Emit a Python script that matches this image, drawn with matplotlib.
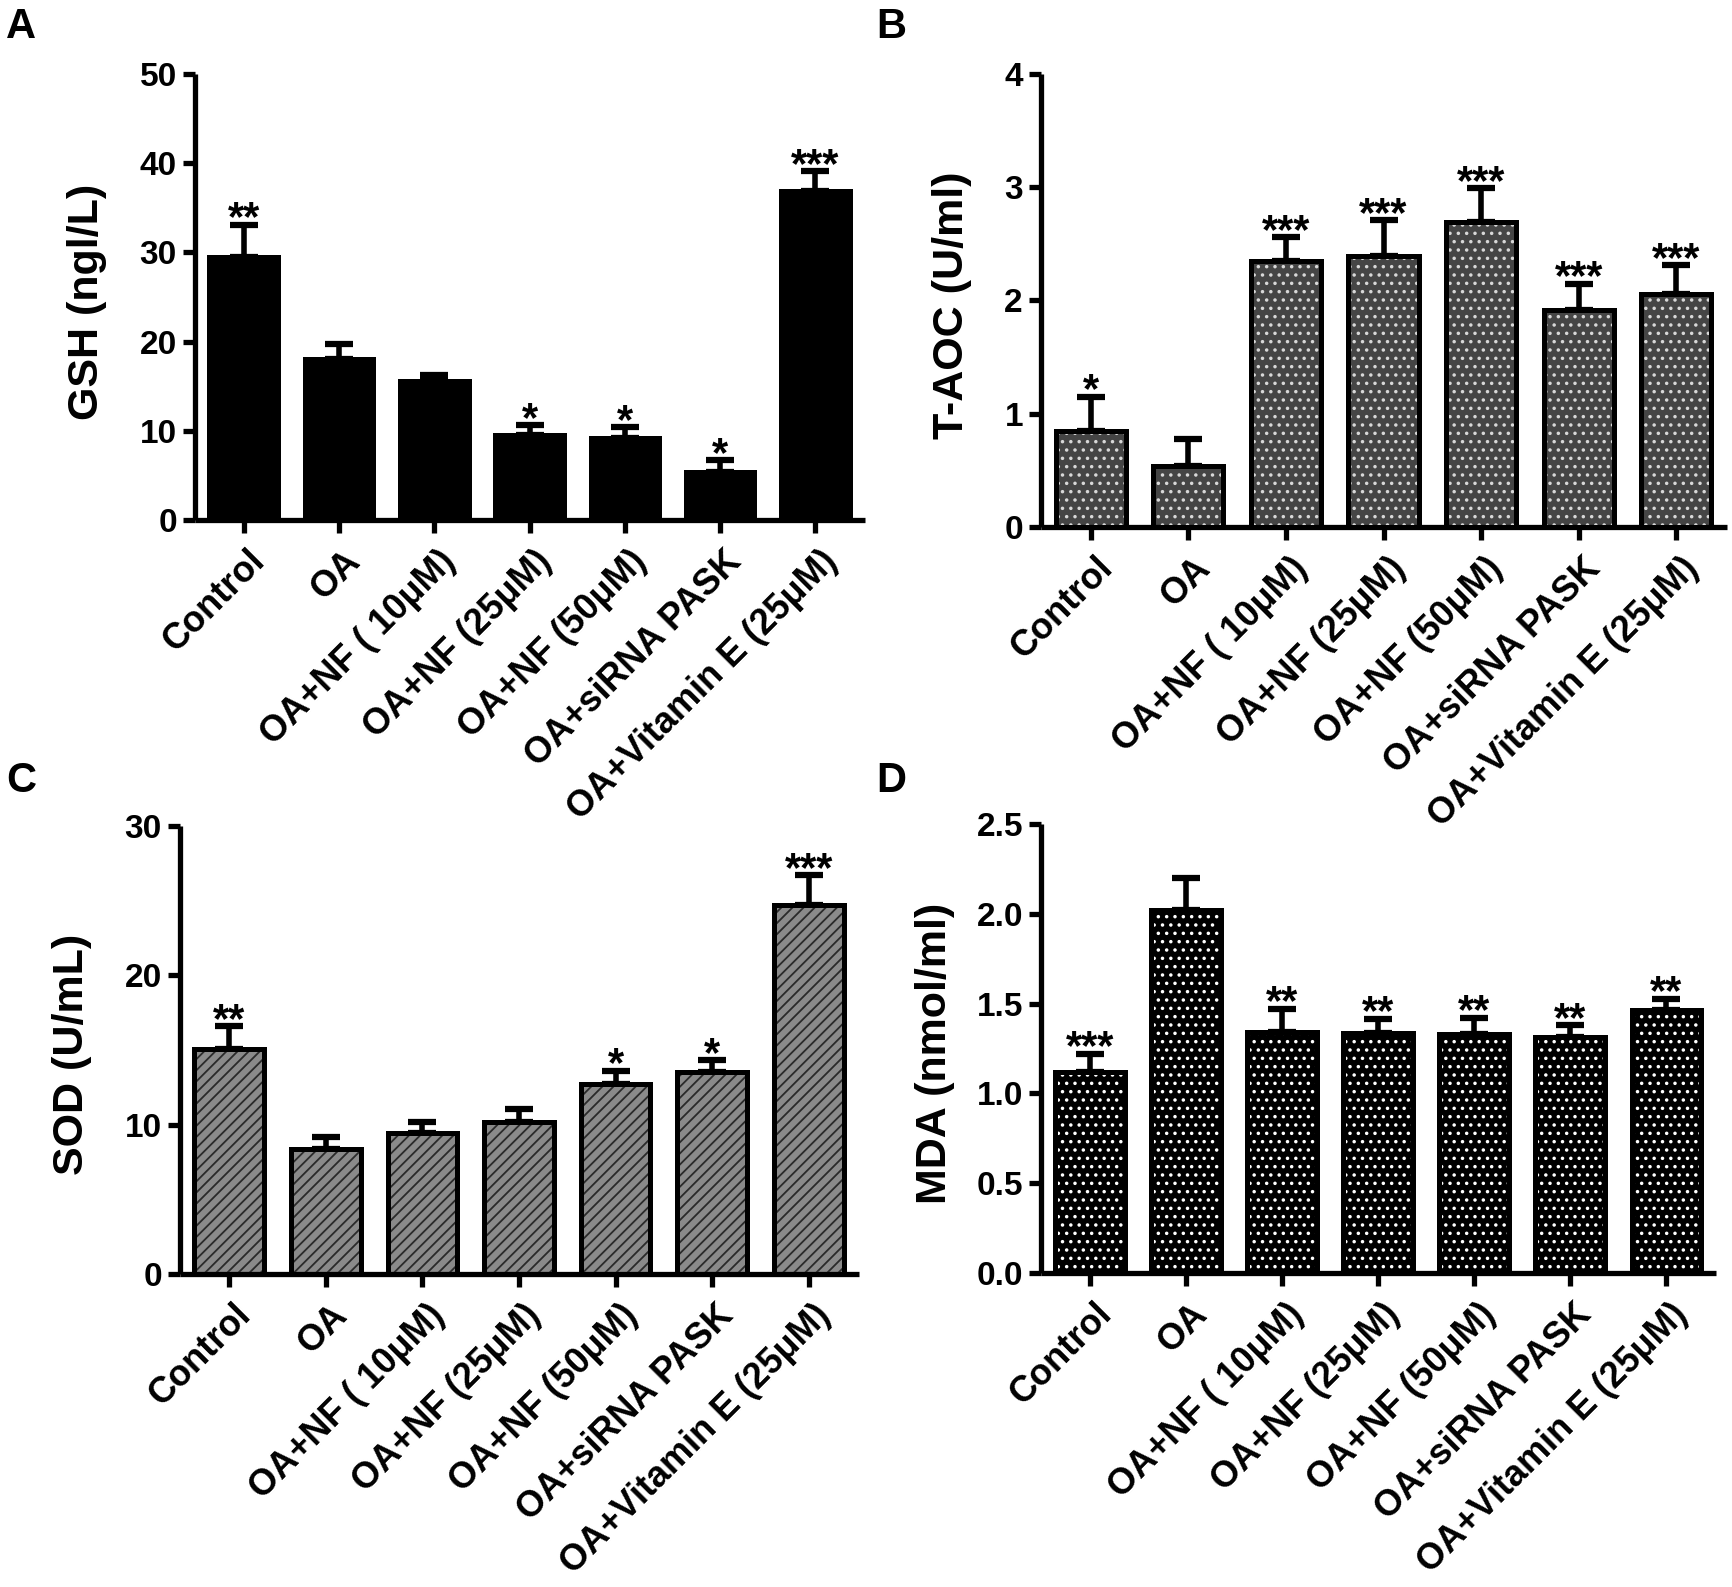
import matplotlib
matplotlib.use("Agg")
import matplotlib.pyplot as plt
from matplotlib.transforms import ScaledTranslation

plt.rcParams['font.family'] = ['Liberation Sans', 'DejaVu Sans']
plt.rcParams['font.weight'] = 'bold'

# grupos (eje x)
grupos = ['Control', 'OA', 'OA+NF ( 10μM)', 'OA+NF (25μM)', 'OA+NF (50μM)',
          'OA+siRNA PASK', 'OA+Vitamin E (25μM)']

# A: GSH
gsh_media = [29.5, 18.1, 15.6, 9.5, 9.2, 5.4, 36.9]
gsh_err = [3.6, 1.6, 0.7, 1.1, 1.2, 1.3, 2.2]
gsh_sig = ['**', '', '', '*', '*', '*', '***']

# B: T-AOC
taoc_media = [0.85, 0.54, 2.35, 2.39, 2.69, 1.92, 2.06]
taoc_err = [0.30, 0.24, 0.21, 0.32, 0.30, 0.23, 0.25]
taoc_sig = ['*', '', '***', '***', '***', '***', '***']

# C: SOD
sod_media = [15.1, 8.35, 9.46, 10.15, 12.74, 13.5, 24.7]
sod_err = [1.5, 0.8, 0.7, 0.9, 0.86, 0.8, 2.0]
sod_sig = ['**', '', '', '', '*', '*', '***']

# D: MDA
mda_media = [1.12, 2.02, 1.34, 1.335, 1.33, 1.315, 1.466]
mda_err = [0.10, 0.18, 0.13, 0.08, 0.09, 0.065, 0.06]
mda_sig = ['***', '', '**', '**', '**', '**', '**']

W, H = 1733, 1587
fig = plt.figure(figsize=(W / 100, H / 100), dpi=100)


def panel(rect, medias, errs, sigs, ylabel, yticks, ymax, fmt, fondo, trama, color_trama, label_x):
    ax = fig.add_axes(rect)
    x = list(range(len(medias)))
    # barra de fondo
    ax.bar(x, medias, width=0.72, color=fondo, edgecolor='none', linewidth=0, zorder=2)
    # trama
    if trama:
        ax.bar(x, medias, width=0.72, color='none', edgecolor=color_trama, linewidth=0,
               hatch=trama, zorder=3)
    # contorno
    ax.bar(x, medias, width=0.72, color='none', edgecolor='black', linewidth=3.6, zorder=4)
    ax.errorbar(x, medias, yerr=[[0] * len(errs), errs], fmt='none', ecolor='black',
                elinewidth=4, capsize=10, capthick=4.5, zorder=1)
    for xi, m, e, s in zip(x, medias, errs, sigs):
        if s:
            ax.annotate(s, (xi, m + e), xytext=(0, -4), textcoords='offset points',
                        ha='center', va='baseline', fontsize=30, fontweight='bold')
    ax.set_xlim(-0.51, 6.52)
    ax.set_ylim(0, ymax)
    ax.set_yticks(yticks)
    ax.set_yticklabels([fmt % t for t in yticks])
    ax.set_xticks(x)
    ax.set_xticklabels(grupos, rotation=45, ha='right', rotation_mode='anchor')
    for s in ['top', 'right']:
        ax.spines[s].set_visible(False)
    for s in ['left', 'bottom']:
        ax.spines[s].set_linewidth(3.8)
        ax.spines[s].set_capstyle('butt')
    ax.tick_params(axis='both', width=3.8, length=9)
    ax.tick_params(axis='y', labelsize=24, pad=4)
    ax.tick_params(axis='x', labelsize=26, pad=8)
    desplaza = ScaledTranslation(4 / 100, 0, fig.dpi_scale_trans)
    for t in ax.get_xticklabels():
        t.set_fontweight('bold')
        t.set_transform(t.get_transform() + desplaza)
    for t in ax.get_yticklabels():
        t.set_fontweight('bold')
    ax.set_ylabel(ylabel, fontsize=31, fontweight='bold')
    ax.yaxis.set_label_coords(label_x, 0.49)
    return ax


plt.rcParams['hatch.linewidth'] = 1.3

panel([195 / W, 1 - 520 / H, 670 / W, 446 / H], gsh_media, gsh_err, gsh_sig,
      'GSH (ngl/L)', [0, 10, 20, 30, 40, 50], 50, '%d', 'black', None, None, -0.131)
panel([1041 / W, 1 - 527 / H, 686 / W, 453 / H], taoc_media, taoc_err, taoc_sig,
      'T-AOC (U/ml)', [0, 1, 2, 3, 4], 4, '%d', '#454545', '..', '#d8d8d8', -0.100)
panel([180 / W, 1 - 1274 / H, 679 / W, 448 / H], sod_media, sod_err, sod_sig,
      'SOD (U/mL)', [0, 10, 20, 30], 30, '%d', '#8a8a8a', '///', '#2a2a2a', -0.130)
panel([1041 / W, 1 - 1273 / H, 675 / W, 449 / H], mda_media, mda_err, mda_sig,
      'MDA (nmol/ml)', [0, 0.5, 1.0, 1.5, 2.0, 2.5], 2.5, '%.1f', 'black', '..', 'white', -0.127)

for letra, px, py in [('A', 6, 7), ('B', 876, 7), ('C', 6, 761), ('D', 876, 761)]:
    fig.text(px / W, 1 - py / H, letra, fontsize=30, fontweight='bold', va='top', ha='left')

fig.savefig('out.png', dpi=100)
